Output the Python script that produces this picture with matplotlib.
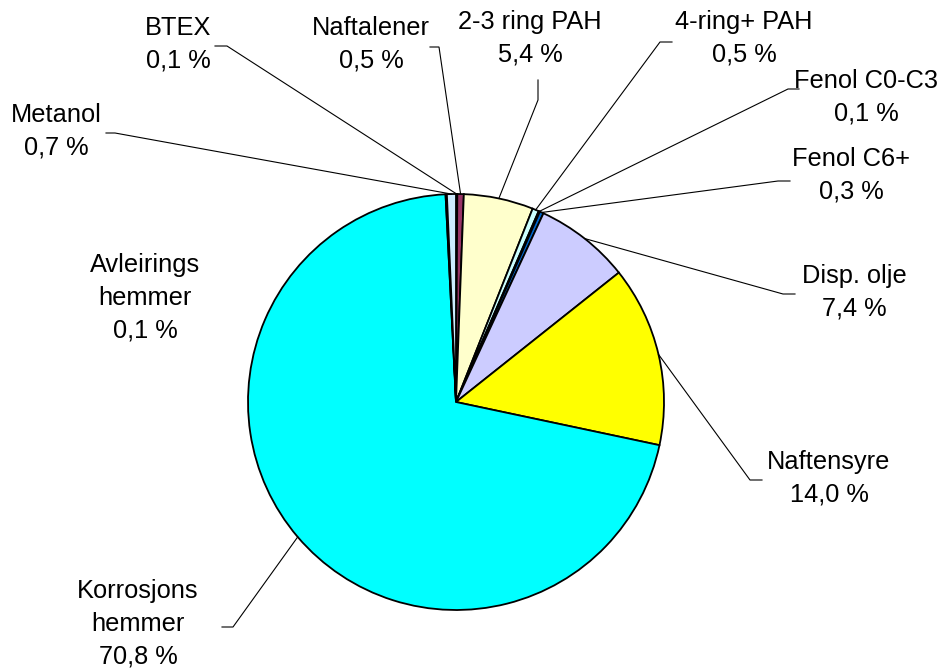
import numpy as np
import matplotlib
matplotlib.use("Agg")
import matplotlib.pyplot as plt

plt.rcParams["font.family"] = ["Liberation Sans", "DejaVu Sans"]

# data
labels = ["BTEX", "Naftalener", "2-3 ring PAH", "4-ring+ PAH", "Fenol C0-C3",
          "Fenol C6+", "Disp. olje", "Naftensyre", "Korrosjons\nhemmer",
          "Avleirings\nhemmer", "Metanol"]
values = [0.1, 0.5, 5.4, 0.5, 0.1, 0.3, 7.4, 14.0, 70.8, 0.1, 0.7]
colors = ["#9999FF", "#993366", "#FFFFCC", "#CCFFFF", "#660066", "#0066CC",
          "#CCCCFF", "#FFFF00", "#00FFFF", "#000080", "#CCECFF"]

# layout in pixel coords (y down): label centre, leader elbow, leader tail
W, H = 947, 672
CX, CY, R = 456, 402, 208
label_pos = [(178, 44), (371, 44), (530, 38), (744, 38), (866, 97), (851, 175),
             (854, 292), (829, 478), (138, 624), (145, 298), (56, 131)]
elbows = [(227, 46), (439, 47), (538, 100), (660, 42), (788, 89), (778, 181),
          (783, 294), (750, 480), (233, 627), None, (115, 133)]
tails = [(215, 46), (430, 47), (538, 80), (672, 42), (799, 89), (790, 181),
         (795, 294), (762, 480), (222, 627), None, (106, 133)]

fig = plt.figure(figsize=(W / 100, H / 100), dpi=100)
ax = fig.add_axes([0, 0, 1, 1])
ax.axis("off")

wedges, _ = ax.pie(values, colors=colors, startangle=90, counterclock=False,
                   center=(CX, H - CY), radius=R, normalize=True,
                   wedgeprops={"edgecolor": "black", "linewidth": 1.3})
ax.set_xlim(0, W)
ax.set_ylim(0, H)
ax.set_aspect("equal")

for w, lab, v, pos, el, tl in zip(wedges, labels, values, label_pos, elbows, tails):
    pct = f"{v:.1f}".replace(".", ",")
    ax.text(pos[0], H - pos[1], f"{lab}\n{pct} %", ha="center", va="center",
            fontsize=18.3, linespacing=1.45, color="black")
    if el is None:
        continue
    ang = np.deg2rad((w.theta1 + w.theta2) / 2)
    px = CX + R * np.cos(ang)
    py = H - CY + R * np.sin(ang)
    ax.plot([px, el[0], tl[0]], [py, H - el[1], H - tl[1]],
            color="black", linewidth=0.8, solid_joinstyle="miter")

fig.savefig("out.png", dpi=100, facecolor="white")
